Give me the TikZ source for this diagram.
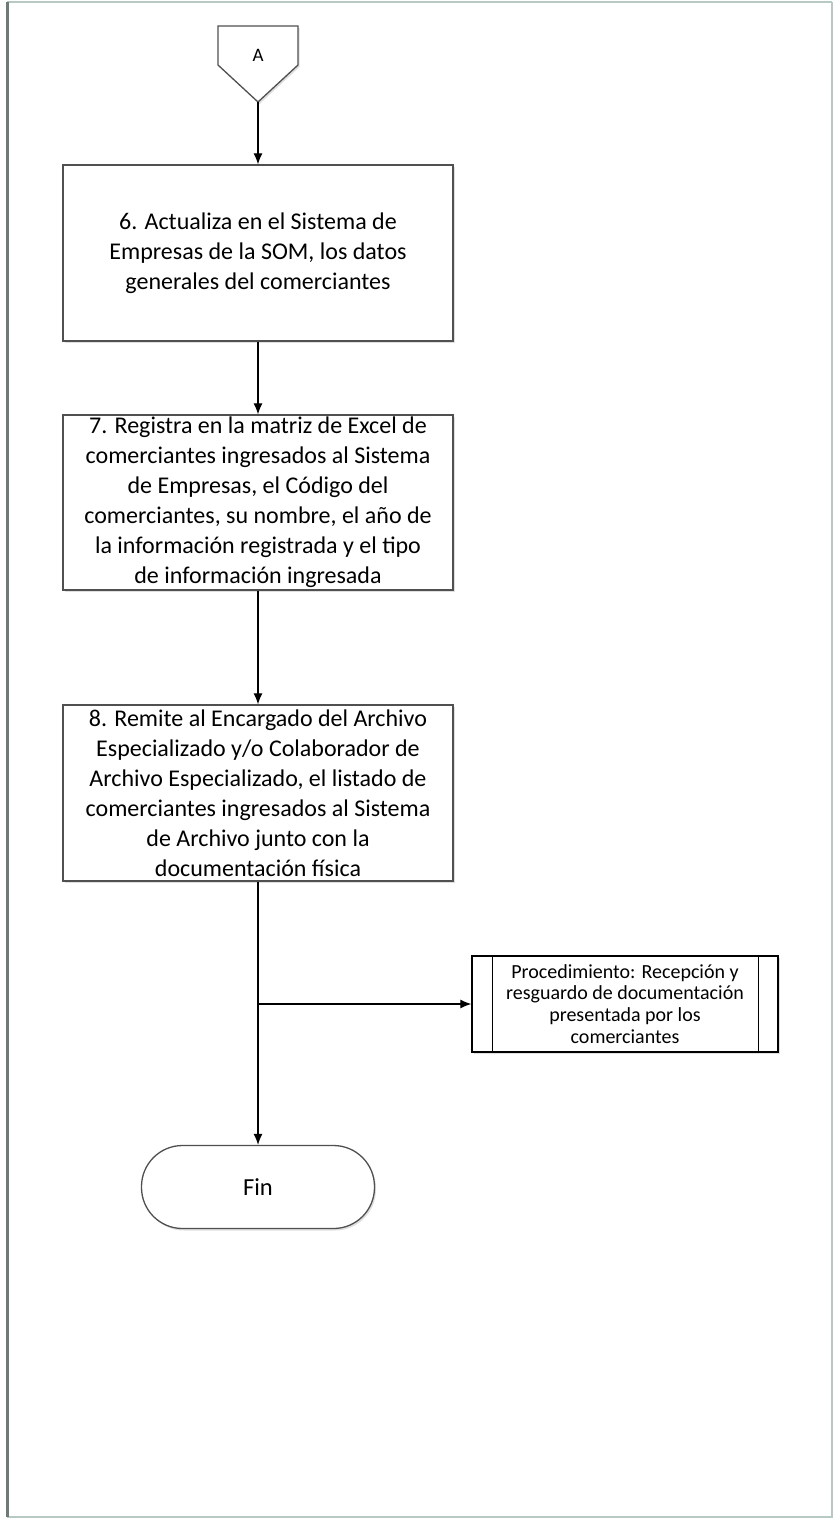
\documentclass[tikz,border=0pt]{standalone}
\usepackage{fontspec}
\setmainfont{Carlito}
\usetikzlibrary{arrows.meta,shadows}
\definecolor{edge}{HTML}{505050}
\definecolor{frame}{HTML}{6E7A76}
\definecolor{frametop}{HTML}{B8C8C2}
\tikzset{
  proc/.style={draw=edge, line width=1.3pt, fill=white, minimum width=390pt, align=center,
    font=\fontsize{24}{30}\selectfont, inner sep=0pt,
    drop shadow={shadow xshift=1.5pt, shadow yshift=-2pt, opacity=0.25}},
  term/.style={draw=edge, line width=1.3pt, fill=white, rounded corners=41pt, minimum width=233pt,
    minimum height=83pt, font=\fontsize{24.5}{30}\selectfont,
    drop shadow={shadow xshift=1.5pt, shadow yshift=-2pt, opacity=0.25}},
  flow/.style={-{Latex[length=11pt,width=9pt]}, line width=1.2pt, black},
}
\begin{document}
\begin{tikzpicture}[x=1pt,y=-1pt]
\useasboundingbox (0,0) rectangle (833,1523);
% frame
\fill[white] (7,2) rectangle (832,1517);
\draw[frametop, line width=2.5pt] (7,2) -- (832,2);
\draw[frametop, line width=1.5pt] (832,2) -- (832,1517) -- (7,1517);
\draw[frame, line width=2.5pt] (7.5,2) -- (7.5,1517);
% off-page connector A
\draw[edge, line width=1.3pt, fill=white, drop shadow={shadow xshift=1.5pt, shadow yshift=-2pt, opacity=0.25}]
  (218,26) -- (298,26) -- (298,65) -- (258,102) -- (218,65) -- cycle;
\node (A) at (258,55) {\fontsize{19}{22}\selectfont A};
\coordinate (Ap) at (258,102);
% boxes
\node[proc, minimum height=176pt] (b6) at (258,253) {6. Actualiza en el Sistema de\\Empresas de la SOM, los datos\\generales del comerciantes};
\node[proc, minimum height=175pt] (b7) at (258,502.5) {7. Registra en la matriz de Excel de\\comerciantes ingresados al Sistema\\de Empresas, el Código del\\comerciantes, su nombre, el año de\\la información registrada y el tipo\\de información ingresada};
\node[proc, minimum height=176pt] (b8) at (258,793) {8. Remite al Encargado del Archivo\\Especializado y/o Colaborador de\\Archivo Especializado, el listado de\\comerciantes ingresados al Sistema\\de Archivo junto con la\\documentación física};
% subprocess
\node[draw=black, line width=1.3pt, fill=white, minimum width=306pt, minimum height=96pt, align=center,
  font=\fontsize{20}{21.8}\selectfont, inner sep=0pt,
  drop shadow={shadow xshift=1.5pt, shadow yshift=-2pt, opacity=0.25}] (sp) at (625,1004)
  {Procedimiento: Recepción y\\resguardo de documentación\\presentada por los\\comerciantes};
\draw[black, line width=1.3pt] ([xshift=21pt]sp.north west) -- ([xshift=21pt]sp.south west);
\draw[black, line width=1.3pt] ([xshift=-20pt]sp.north east) -- ([xshift=-20pt]sp.south east);
% terminal
\node[term] (fin) at (258,1187) {Fin};
% connectors
\draw[flow] (Ap) -- (b6.north);
\draw[flow] (b6.south) -- (b7.north);
\draw[flow] (b7.south) -- (b8.north);
\draw[flow] (b8.south) -- (fin.north);
\coordinate (br) at (b8.south |- sp.west);
\draw[flow] (br) -- (sp.west);
\end{tikzpicture}
\end{document}
